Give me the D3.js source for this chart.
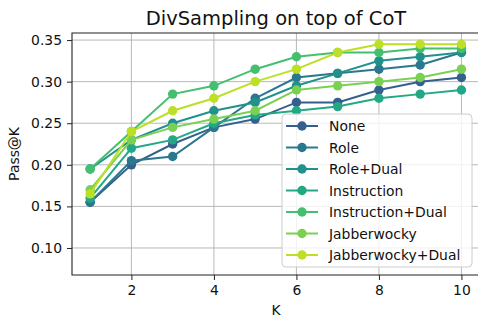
<!DOCTYPE html>
<html><head><meta charset="utf-8">
<script src="https://cdn.jsdelivr.net/npm/d3@7"></script>
<style>body{margin:0;background:#fff}svg{display:block;font-family:"DejaVu Sans",sans-serif}</style>
</head><body><svg id="c" width="478" height="318"></svg>
<script>
const ks = [1,2,3,4,5,6,7,8,9,10];
const seriesNames = ["None","Role","Role+Dual","Instruction","Instruction+Dual","Jabberwocky","Jabberwocky+Dual"];
const noneVals      = [0.155,0.200,0.225,0.245,0.255,0.275,0.275,0.290,0.300,0.305];
const roleVals      = [0.155,0.205,0.210,0.245,0.280,0.305,0.310,0.315,0.320,0.335];
const roleDualVals  = [0.195,0.230,0.250,0.265,0.275,0.295,0.310,0.325,0.330,0.335];
const instrVals     = [0.160,0.220,0.230,0.250,0.260,0.265,0.270,0.280,0.285,0.290];
const instrDualVals = [0.195,0.240,0.285,0.295,0.315,0.330,0.335,0.335,0.340,0.340];
const jabberVals    = [0.170,0.230,0.245,0.255,0.265,0.290,0.295,0.300,0.305,0.315];
const jabberDualVals= [0.165,0.240,0.265,0.280,0.300,0.315,0.335,0.345,0.345,0.345];
const xTicks = [2,4,6,8,10];
const yTicks = [0.10,0.15,0.20,0.25,0.30,0.35];
const colors = ["#355f8d","#2a788e","#21918c","#22a884","#44bf70","#7ad151","#bddf26"];
const allVals = [noneVals,roleVals,roleDualVals,instrVals,instrDualVals,jabberVals,jabberDualVals];

const L=72, R=480, T=33, B=275;
const x = d3.scaleLinear().domain([0.56,10.45]).range([L,R]);
const y = d3.scaleLinear().domain([0.0675,0.3585]).range([B,T]);
const svg = d3.select("#c");

// grid
svg.append("g").selectAll("line").data(xTicks).join("line")
  .attr("x1",d=>x(d)).attr("x2",d=>x(d)).attr("y1",T).attr("y2",B)
  .attr("stroke","#b0b0b0").attr("stroke-width",0.9);
svg.append("g").selectAll("line").data(yTicks).join("line")
  .attr("x1",L).attr("x2",R).attr("y1",d=>y(d)).attr("y2",d=>y(d))
  .attr("stroke","#b0b0b0").attr("stroke-width",0.9);

// axes
const xAxis = svg.append("g").attr("transform",`translate(0,${B})`)
  .call(d3.axisBottom(x).tickValues(xTicks).tickFormat(d3.format("d")).tickSize(5).tickPadding(5));
const yAxis = svg.append("g").attr("transform",`translate(${L},0)`)
  .call(d3.axisLeft(y).tickValues(yTicks).tickFormat(d3.format(".2f")).tickSize(5).tickPadding(5));
[xAxis,yAxis].forEach(a=>{
  a.select(".domain").remove();
  a.selectAll("text").attr("font-size","13.9px").attr("fill","#111").attr("font-family","DejaVu Sans");
  a.selectAll("line").attr("stroke","#222").attr("stroke-width",1);
});
// spines
svg.append("path").attr("d",`M${R},${T}H${L}V${B}H${R}`).attr("fill","none").attr("stroke","#222").attr("stroke-width",1.1);

// series
const line = d3.line().x((d,i)=>x(ks[i])).y(d=>y(d));
allVals.forEach((vals,si)=>{
  const g = svg.append("g");
  g.append("path").attr("d",line(vals)).attr("fill","none").attr("stroke",colors[si]).attr("stroke-width",2);
  g.selectAll("circle").data(vals).join("circle")
    .attr("cx",(d,i)=>x(ks[i])).attr("cy",d=>y(d)).attr("r",4.7).attr("fill",colors[si]);
});

// title and labels
svg.append("text").attr("x",(L+R)/2).attr("y",25).attr("text-anchor","middle")
  .attr("font-size","19.5px").attr("fill","#111").text("DivSampling on top of CoT");
svg.append("text").attr("x",(L+R)/2).attr("y",315).attr("text-anchor","middle")
  .attr("font-size","13.9px").attr("fill","#111").text("K");
svg.append("text").attr("transform",`translate(19,${(T+B)/2}) rotate(-90)`).attr("text-anchor","middle")
  .attr("font-size","13.9px").attr("fill","#111").text("Pass@K");

// legend
const lg = svg.append("g");
lg.append("rect").attr("x",282).attr("y",114).attr("width",190).attr("height",153).attr("rx",4)
  .attr("fill","#fff").attr("fill-opacity",0.8).attr("stroke","#cccccc").attr("stroke-width",1);
seriesNames.forEach((n,i)=>{
  const cy = 126 + i*21.5;
  lg.append("line").attr("x1",286).attr("x2",318).attr("y1",cy).attr("y2",cy).attr("stroke",colors[i]).attr("stroke-width",2);
  lg.append("circle").attr("cx",302).attr("cy",cy).attr("r",4.7).attr("fill",colors[i]);
  lg.append("text").attr("x",329).attr("y",cy+5).attr("font-size","13.9px").attr("fill","#111").text(n);
});
</script></body></html>
